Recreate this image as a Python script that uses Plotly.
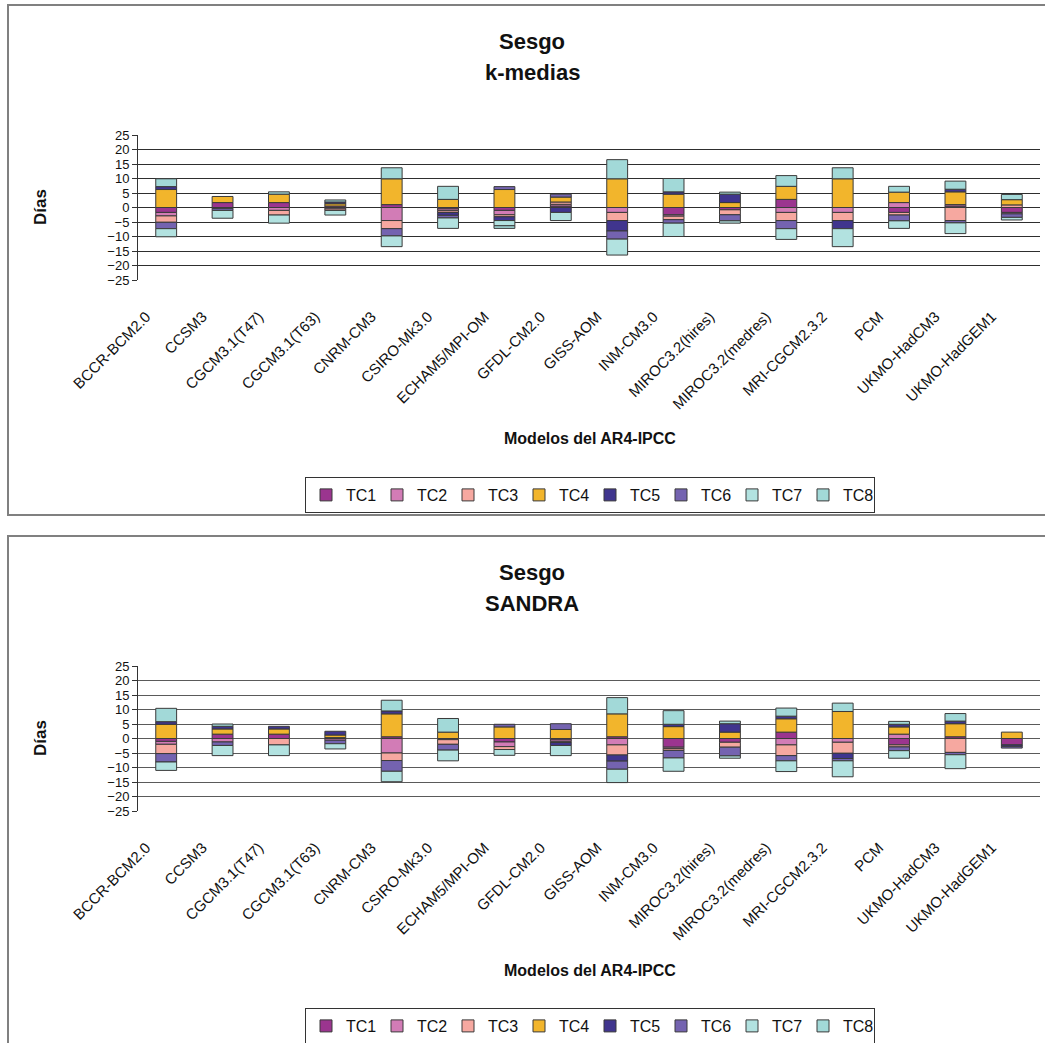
import plotly.graph_objects as go

# Models of the AR4-IPCC ensemble
modelos = ["BCCR-BCM2.0", "CCSM3", "CGCM3.1(T47)", "CGCM3.1(T63)", "CNRM-CM3",
           "CSIRO-Mk3.0", "ECHAM5/MPI-OM", "GFDL-CM2.0", "GISS-AOM", "INM-CM3.0",
           "MIROC3.2(hires)", "MIROC3.2(medres)", "MRI-CGCM2.3.2", "PCM",
           "UKMO-HadCM3", "UKMO-HadGEM1"]

series = ["TC1", "TC2", "TC3", "TC4", "TC5", "TC6", "TC7", "TC8"]

# Bias (days) per circulation type, k-medias classification
kmed_tc1 = [-1.7, 1.7, 1.7, 0.5, 1.0, -0.5, -1.0, 0.5, None, -2.5, -0.8, 2.8, None, -1.7, 0.5, -1.7]
kmed_tc2 = [-1.2, -0.3, -1.0, -0.5, -4.5, -0.6, -1.5, 0.6, -1.7, -0.5, None, -1.7, -1.7, 1.7, 0.5, -0.5]
kmed_tc3 = [-2.2, None, -1.6, -0.5, -2.8, -0.6, -0.7, 0.8, -2.8, -1.2, -1.7, -2.8, -2.8, -0.9, -4.5, 0.9]
kmed_tc4 = [6.2, 2.1, 2.9, 0.8, 8.9, 2.8, 6.2, 1.7, 9.9, 4.6, 1.7, 4.5, 9.9, 3.6, 4.4, 1.8]
kmed_tc5 = [1.0, None, None, 0.6, None, -1.0, -1.3, -1.7, -3.6, 0.8, 2.9, None, -2.8, None, 0.9, None]
kmed_tc6 = [-2.2, -0.7, None, None, -2.5, -0.9, 1.0, 1.0, -2.8, -1.2, -2.1, -2.8, None, -2.0, -0.8, -1.2]
kmed_tc7 = [-2.8, -2.7, -2.8, -1.6, -3.7, -3.6, -1.8, -2.8, -5.5, -4.6, -0.8, -3.7, -6.2, -2.6, -3.7, -0.9]
kmed_tc8 = [2.7, None, 0.8, 0.7, 3.8, 4.5, -0.9, None, 6.6, 4.6, 0.7, 3.7, 3.8, 2.0, 2.8, 1.8]

# Bias (days) per circulation type, SANDRA classification
sandra_tc1 = [-1.0, 1.5, 1.5, 0.3, 0.6, None, -1.2, -0.5, 0.6, -3.0, -1.3, 2.2, None, -2.2, 0.6, -2.2]
sandra_tc2 = [-1.0, -1.2, None, -0.6, -5.0, -0.4, -1.6, -0.6, -2.2, -0.5, None, -2.2, -1.3, 1.5, None, None]
sandra_tc3 = [-3.2, None, -2.2, None, -2.6, -1.6, -1.0, -0.3, -3.5, -0.6, -1.7, -3.7, -3.8, -0.7, -4.8, None]
sandra_tc4 = [4.9, 1.8, 1.8, 0.9, 7.9, 2.2, 4.0, 3.1, 7.9, 4.1, 2.2, 4.6, 9.3, 2.5, 4.5, 2.2]
sandra_tc5 = [0.9, 0.9, 0.9, 1.3, 1.0, None, None, -1.0, -2.1, 0.8, 2.9, 0.9, -1.8, 0.9, 0.9, -0.5]
sandra_tc6 = [-2.9, -1.2, None, -1.2, -3.7, -2.0, 0.9, 2.0, -2.8, -2.6, -3.0, -1.8, -0.8, -1.3, -0.8, -0.6]
sandra_tc7 = [-2.9, -3.5, -3.7, -1.8, -3.6, -3.7, -2.0, -3.5, -4.6, -4.6, -0.8, -3.7, -5.5, -2.6, -4.8, None]
sandra_tc8 = [4.6, 0.8, None, None, 3.7, 4.7, None, None, 5.6, 4.7, 0.9, 2.8, 2.9, 1.0, 2.6, None]

colores = ["#9b358f", "#d27cb6", "#f6a8a0", "#f2b52c", "#40358e", "#7463b0", "#b2e2e0", "#a2d9d8"]

kmedias = [kmed_tc1, kmed_tc2, kmed_tc3, kmed_tc4, kmed_tc5, kmed_tc6, kmed_tc7, kmed_tc8]
sandra = [sandra_tc1, sandra_tc2, sandra_tc3, sandra_tc4, sandra_tc5, sandra_tc6, sandra_tc7, sandra_tc8]

W, H = 1045, 1043
FONT = "Liberation Sans, Arial, sans-serif"


def px_x(p):
    return p / W


def px_y(p):
    return 1 - p / H


fig = go.Figure()

for vals, name, col in zip(kmedias, series, colores):
    fig.add_trace(go.Bar(x=modelos, y=vals, name=name, marker_color=col,
                         marker_line=dict(color="#3a3a3a", width=1),
                         xaxis="x", yaxis="y", legend="legend"))
for vals, name, col in zip(sandra, series, colores):
    fig.add_trace(go.Bar(x=modelos, y=vals, name=name, marker_color=col,
                         marker_line=dict(color="#3a3a3a", width=1),
                         xaxis="x2", yaxis="y2", legend="legend2"))

x_dom = [px_x(138), px_x(1040)]
y_dom_top = [px_y(280), px_y(135)]
y_dom_bot = [px_y(811), px_y(666)]
n = len(modelos)
limites = [i + 0.5 for i in range(n - 1)]

xcommon = dict(domain=x_dom, type="category", range=[-0.5, n - 0.5], tickangle=-45,
               showgrid=False, showline=False, ticks="", zeroline=False, automargin=False,
               ticklabelstandoff=24, ticklabelshift=-20,
               tickfont=dict(family=FONT, size=15, color="#111"))
ycommon = dict(range=[-25, 25], dtick=5, tick0=0, showgrid=True, gridwidth=1,
               showline=True, linecolor="#333", linewidth=1, ticks="outside",
               ticklen=5, tickcolor="#333", zeroline=False, automargin=False,
               tickfont=dict(family=FONT, size=13, color="#111"))
zero_axis = dict(type="linear", range=[-0.5, n - 0.5], anchor="free", automargin=False,
                 tickmode="array", tickvals=limites, ticks="outside", ticklen=5,
                 tickcolor="#888", showline=True, linecolor="#888", linewidth=1.5,
                 showticklabels=False, showgrid=False, zeroline=False)

legend_common = dict(orientation="h", x=px_x(305), xanchor="left", yanchor="top",
                     bordercolor="#333", borderwidth=1, bgcolor="white", traceorder="normal",
                     entrywidth=26, entrywidthmode="pixels",
                     font=dict(family=FONT, size=16, color="#111"))

fig.update_layout(
    width=W, height=H, margin=dict(l=0, r=0, t=0, b=0, autoexpand=False),
    paper_bgcolor="white", plot_bgcolor="white",
    barmode="relative", bargap=0.63,
    font=dict(family=FONT, color="#111"),
    xaxis=dict(anchor="y", **xcommon),
    yaxis=dict(domain=y_dom_top, anchor="x", gridcolor="#2e2e2e", **ycommon),
    xaxis2=dict(anchor="y2", **xcommon),
    yaxis2=dict(domain=y_dom_bot, anchor="x2", gridcolor="#5a5a5a", **ycommon),
    xaxis3=dict(overlaying="x", position=sum(y_dom_top) / 2, **zero_axis),
    xaxis4=dict(overlaying="x2", position=sum(y_dom_bot) / 2, **zero_axis),
    legend=dict(y=px_y(477), **legend_common),
    legend2=dict(y=px_y(1008), **legend_common),
)

# Panel frames
for top, bottom in [(5, 515), (536, 1060)]:
    fig.add_shape(type="rect", xref="paper", yref="paper",
                  x0=px_x(8), x1=px_x(1060), y0=px_y(bottom), y1=px_y(top),
                  line=dict(color="#808080", width=2), fillcolor="rgba(0,0,0,0)", layer="below")

# Titles and axis labels
textos = [
    ("<b>Sesgo</b>", 532, 41, 22, 0),
    ("<b>k-medias</b>", 532, 72, 22, 0),
    ("<b>Sesgo</b>", 532, 572, 22, 0),
    ("<b>SANDRA</b>", 532, 603, 22, 0),
    ("<b>Modelos del AR4-IPCC</b>", 590, 438, 16, 0),
    ("<b>Modelos del AR4-IPCC</b>", 590, 970, 16, 0),
    ("<b>Días</b>", 40, 207, 17, -90),
    ("<b>Días</b>", 40, 738, 17, -90),
]
for txt, x, y, size, ang in textos:
    fig.add_annotation(text=txt, x=px_x(x), y=px_y(y), xref="paper", yref="paper",
                       xanchor="center", yanchor="middle", showarrow=False, textangle=ang,
                       font=dict(family=FONT, size=size, color="#111"))

fig.write_html("out.html")
